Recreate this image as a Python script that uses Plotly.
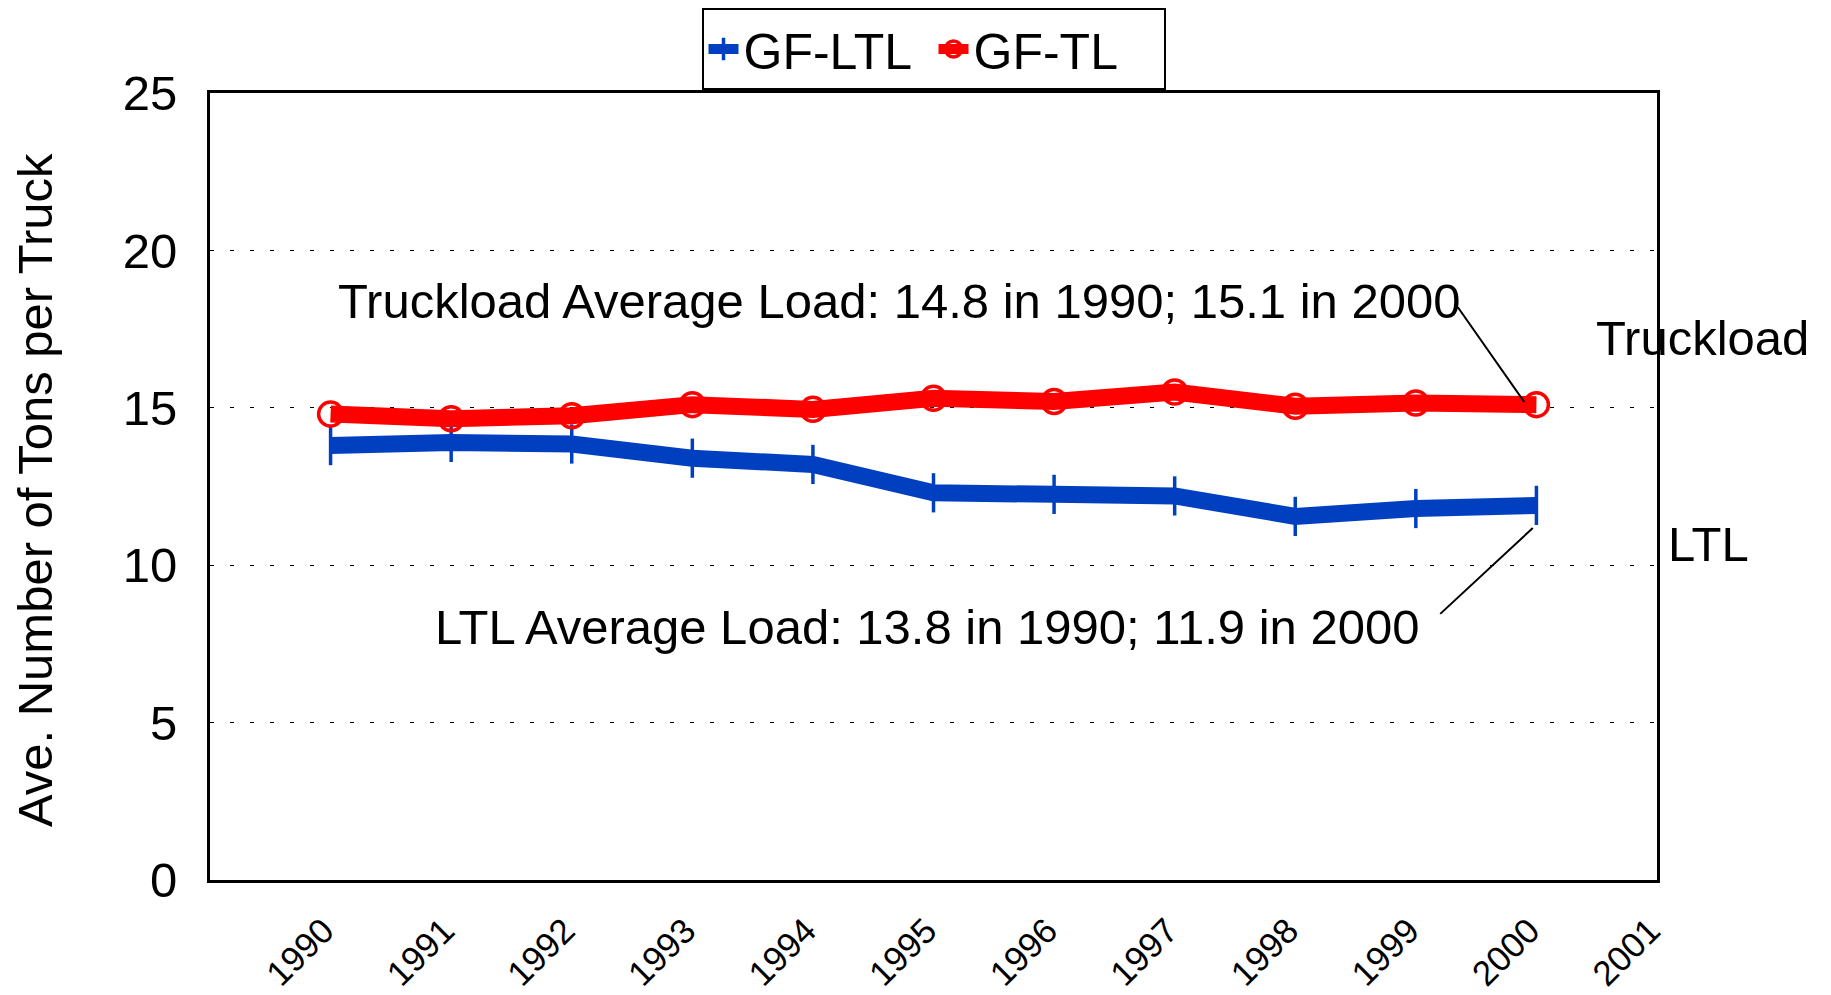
import plotly.graph_objects as go

years = [1990, 1991, 1992, 1993, 1994, 1995, 1996, 1997, 1998, 1999, 2000]
tick_years = [1990, 1991, 1992, 1993, 1994, 1995, 1996, 1997, 1998, 1999, 2000, 2001]
ltl = [13.8, 13.9, 13.85, 13.4, 13.2, 12.3, 12.25, 12.2, 11.55, 11.8, 11.9]
tl = [14.8, 14.65, 14.75, 15.1, 14.95, 15.3, 15.2, 15.5, 15.05, 15.15, 15.1]

FONT = "Arial, 'Liberation Sans', sans-serif"
BLUE = "#0040C0"
RED = "#FF0000"
FS = 49

fig = go.Figure()
fig.add_trace(go.Scatter(
    x=years, y=ltl, name="GF-LTL", mode="lines+markers",
    line=dict(color=BLUE, width=17),
    marker=dict(symbol="line-ns-open", size=28, line=dict(color=BLUE, width=3.5), color=BLUE),
))
fig.add_trace(go.Scatter(
    x=years, y=tl, name="GF-TL", mode="lines+markers",
    line=dict(color=RED, width=17),
    marker=dict(symbol="circle-open", size=24, line=dict(color=RED, width=3.5), color=RED),
))

fig.update_layout(
    width=1823, height=987,
    margin=dict(l=202, r=174, t=85, b=115, autoexpand=False),
    paper_bgcolor="white", plot_bgcolor="white",
    font=dict(family=FONT, size=FS, color="black"),
    showlegend=True,
    legend=dict(
        orientation="h", x=0.5, xanchor="center", y=1.108, yanchor="top",
        bordercolor="black", borderwidth=2, font=dict(size=50),
        tracegroupgap=0, entrywidth=185, entrywidthmode="pixels",
    ),
    xaxis=dict(
        range=[1989, 2001], tickvals=tick_years, ticktext=[str(y) for y in tick_years],
        tickangle=-45, tickfont=dict(size=35), showgrid=False, zeroline=False,
        showline=True, mirror=True, linecolor="black", linewidth=3,
        ticks="", ticklabelstandoff=13, ticklabelshift=-7,
    ),
    yaxis=dict(
        range=[0, 25], dtick=5, tickfont=dict(size=FS), zeroline=False,
        showgrid=True, gridcolor="black", gridwidth=1, griddash="4px,16px",
        showline=True, mirror=True, linecolor="black", linewidth=3,
        ticks="", ticklabelstandoff=20,
    ),
    annotations=[
        dict(text="Ave. Number of Tons per Truck", xref="paper", yref="paper",
             x=-0.1205, y=0.495, xanchor="center", yanchor="middle",
             textangle=-90, showarrow=False, font=dict(size=FS)),
        dict(text="Truckload Average Load: 14.8 in 1990; 15.1 in 2000",
             xref="x", yref="y", x=1994.71, y=18.40, showarrow=False,
             xanchor="center", yanchor="middle", font=dict(size=FS)),
        dict(text="LTL Average Load: 13.8 in 1990; 11.9 in 2000",
             xref="x", yref="y", x=1994.95, y=8.03, showarrow=False,
             xanchor="center", yanchor="middle", font=dict(size=FS)),
        dict(text="", xref="x", yref="y", x=1999.9, y=15.18,
             axref="x", ayref="y", ax=1999.34, ay=18.24,
             showarrow=True, arrowhead=0, arrowwidth=2, arrowcolor="black"),
        dict(text="", xref="x", yref="y", x=1999.97, y=11.18,
             axref="x", ayref="y", ax=1999.19, ay=8.41,
             showarrow=True, arrowhead=0, arrowwidth=2, arrowcolor="black"),
        dict(text="Truckload", xref="paper", yref="paper", x=0.9565, y=0.6888,
             xanchor="left", yanchor="middle", showarrow=False, font=dict(size=FS)),
        dict(text="LTL", xref="paper", yref="paper", x=1.006, y=0.4267,
             xanchor="left", yanchor="middle", showarrow=False, font=dict(size=FS)),
    ],
)

fig.write_html("out.html")
